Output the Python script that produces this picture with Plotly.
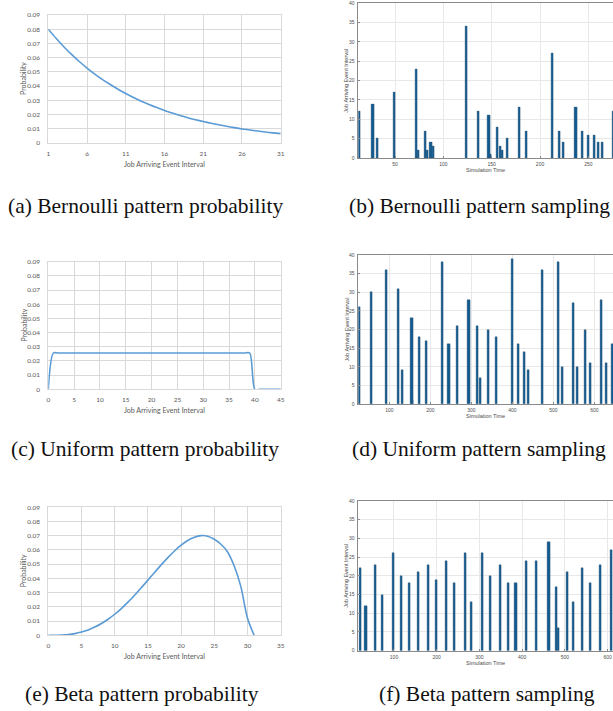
import plotly.graph_objects as go

W, H = 613, 711

# ---------------- data ----------------
# (a) Bernoulli pattern probability
bern_x = list(range(1, 32))
bern_p = [0.0800, 0.0736, 0.0677, 0.0623, 0.0573, 0.0527, 0.0485, 0.0446, 0.0411, 0.0378,
          0.0348, 0.0320, 0.0294, 0.0271, 0.0249, 0.0229, 0.0211, 0.0194, 0.0178, 0.0164,
          0.0151, 0.0139, 0.0128, 0.0118, 0.0108, 0.0099, 0.0092, 0.0084, 0.0077, 0.0071,
          0.0066]
bern_xticks = [1, 6, 11, 16, 21, 26, 31]

# (b) Bernoulli pattern sampling
bern_t = [13, 27, 32, 49, 72, 74, 81, 83, 87, 90, 124, 136, 147, 148, 156, 159, 161, 166,
          179, 186, 213, 220, 224, 237, 244, 250, 256, 260, 264, 276]
bern_v = [12, 14, 5, 17, 23, 2, 7, 2, 4, 3, 34, 12, 11, 1, 8, 3, 2, 5, 13, 7, 27, 7, 4, 13,
          7, 6, 6, 4, 4, 12]

# (c) Uniform pattern probability
unif_x = list(range(0, 46))
unif_p = [0.0,
          0.0256, 0.0256, 0.0256, 0.0256, 0.0256, 0.0256, 0.0256, 0.0256, 0.0256, 0.0256,
          0.0256, 0.0256, 0.0256, 0.0256, 0.0256, 0.0256, 0.0256, 0.0256, 0.0256, 0.0256,
          0.0256, 0.0256, 0.0256, 0.0256, 0.0256, 0.0256, 0.0256, 0.0256, 0.0256, 0.0256,
          0.0256, 0.0256, 0.0256, 0.0256, 0.0256, 0.0256, 0.0256, 0.0256, 0.0256,
          0.0, 0.0, 0.0, 0.0, 0.0, 0.0]

# (d) Uniform pattern sampling
unif_t = [26, 56, 92, 123, 132, 155, 156, 174, 191, 229, 245, 266, 294, 315, 322, 342, 360,
          399, 415, 429, 438, 474, 512, 522, 549, 559, 579, 590, 618, 629, 645]
unif_v = [26, 30, 36, 31, 9, 23, 1, 18, 17, 38, 16, 21, 28, 21, 7, 20, 18, 39, 16, 14, 9,
          36, 38, 10, 27, 10, 20, 11, 28, 11, 16]

# (e) Beta pattern probability
beta_x = list(range(0, 32))
beta_p = [0.0, 0.0, 0.0002, 0.0005, 0.0012, 0.0023, 0.0038, 0.0058, 0.0083, 0.0113,
          0.0148, 0.0188, 0.0233, 0.0282, 0.0334, 0.0388, 0.0442, 0.0495, 0.0546, 0.0593,
          0.0634, 0.0667, 0.0690, 0.0701, 0.0697, 0.0675, 0.0640, 0.0586, 0.0487, 0.0342,
          0.0120, 0.0]

# (f) Beta pattern sampling
beta_t = [22, 34, 57, 72, 98, 118, 136, 157, 180, 199, 223, 241, 267, 280, 306, 326, 349,
          367, 385, 409, 433, 462, 479, 485, 506, 519, 541, 559, 582, 609]
beta_v = [22, 12, 23, 15, 26, 20, 18, 21, 23, 19, 24, 18, 26, 13, 26, 20, 23, 18, 18, 24,
          24, 29, 17, 6, 21, 13, 22, 18, 23, 27]

prob_yticks = [0, 0.01, 0.02, 0.03, 0.04, 0.05, 0.06, 0.07, 0.08, 0.09]
prob_yticklabels = ["0", "0.01", "0.02", "0.03", "0.04", "0.05", "0.06", "0.07", "0.08", "0.09"]
samp_yticks = [0, 5, 10, 15, 20, 25, 30, 35, 40]

captions = ["(a) Bernoulli pattern probability", "(b) Bernoulli pattern sampling",
            "(c) Uniform pattern probability", "(d) Uniform pattern sampling",
            "(e) Beta pattern probability", "(f) Beta pattern sampling"]

# ---------------- helpers ----------------
def fx(px):
    return px / W

def fy(py):
    return 1 - py / H

LINE_C = "#5b9bd5"
BAR_C = "#105a90"
EX_GRID = "#d9d9d9"
EX_TXT = "#595959"
ML_GRID = "#e8e8e8"
ML_TXT = "#4d4d4d"

fig = go.Figure()

left = [
    (bern_x, bern_p, 1, 15, 143, [1, 31], bern_xticks),
    (unif_x, unif_p, 3, 261.7, 389.3, [0, 45], list(range(0, 46, 5))),
    (beta_x, beta_p, 5, 507.3, 635.3, [0, 35], list(range(0, 36, 5))),
]
right = [
    (bern_t, bern_v, 2, 3.3, 158, [12, 275.5], [50, 100, 150, 200, 250], 2.2),
    (unif_t, unif_v, 4, 255, 404, [24.4, 645.6], [100, 200, 300, 400, 500, 600], 5.2),
    (beta_t, beta_v, 6, 501, 650.7, [16.5, 612.4], [100, 200, 300, 400, 500, 600], 5.2),
]

layout = dict(width=W, height=H, margin=dict(l=0, r=0, t=0, b=0), autosize=False,
              paper_bgcolor="white", plot_bgcolor="white", showlegend=False,
              bargap=0)
annotations = []

for xs, ys, i, top, bot, xr, xt in left:
    sfx = "" if i == 1 else str(i)
    fig.add_trace(go.Scatter(x=xs, y=ys, mode="lines",
                             line=dict(color=LINE_C, width=1.6, shape="spline", smoothing=0.8),
                             xaxis="x" + sfx, yaxis="y" + sfx, hoverinfo="skip"))
    layout["xaxis" + sfx] = dict(domain=[fx(48.3), fx(280.7)], anchor="y" + sfx, range=xr,
                                 tickvals=xt, showgrid=True, gridcolor=EX_GRID, gridwidth=1,
                                 zeroline=False, showline=True, linecolor=EX_GRID, mirror=True,
                                 ticks="", tickfont=dict(family="Lato", size=6.5, color=EX_TXT),
                                 ticklabelstandoff=4, automargin=False)
    layout["yaxis" + sfx] = dict(domain=[fy(bot), fy(top)], anchor="x" + sfx, range=[0, 0.09],
                                 tickvals=prob_yticks, ticktext=prob_yticklabels,
                                 showgrid=True, gridcolor=EX_GRID, gridwidth=1,
                                 zeroline=False, showline=True, linecolor=EX_GRID, mirror=True,
                                 ticks="", tickfont=dict(family="Lato", size=6.5, color=EX_TXT),
                                 ticklabelstandoff=6, automargin=False)
    annotations.append(dict(text="Probability", x=fx(23), y=fy((top + bot) / 2), xref="paper",
                            yref="paper", showarrow=False, textangle=-90,
                            xanchor="center", yanchor="middle",
                            font=dict(family="Lato", size=7, color=EX_TXT)))
    annotations.append(dict(text="Job Arriving Event Interval", x=fx(164.5), y=fy(bot + 21),
                            xref="paper", yref="paper", showarrow=False,
                            xanchor="center", yanchor="middle",
                            font=dict(family="Lato", size=7, color=EX_TXT)))

for xs, ys, i, top, bot, xr, xt, bw in right:
    sfx = str(i)
    fig.add_trace(go.Bar(x=xs, y=ys, width=bw,
                         marker=dict(color=BAR_C, line=dict(color="#3f5f7c", width=0.4)),
                         xaxis="x" + sfx, yaxis="y" + sfx, hoverinfo="skip"))
    layout["xaxis" + sfx] = dict(domain=[fx(358.3), 1.0], anchor="y" + sfx, range=xr,
                                 tickvals=xt, showgrid=True, gridcolor=ML_GRID, gridwidth=0.7,
                                 zeroline=False, showline=True, linecolor="#8a8a8a",
                                 linewidth=0.7, mirror=True, ticks="inside", ticklen=2,
                                 tickcolor="#8a8a8a", tickwidth=0.7,
                                 tickfont=dict(family="Liberation Sans", size=5, color=ML_TXT),
                                 ticklabelstandoff=1, automargin=False)
    layout["yaxis" + sfx] = dict(domain=[fy(bot), fy(top)], anchor="x" + sfx, range=[0, 40],
                                 tickvals=samp_yticks, showgrid=True, gridcolor=ML_GRID,
                                 gridwidth=0.7, zeroline=False, showline=True,
                                 linecolor="#8a8a8a", linewidth=0.7, mirror=False,
                                 ticks="inside", ticklen=2, tickcolor="#8a8a8a", tickwidth=0.7,
                                 tickfont=dict(family="Liberation Sans", size=5, color=ML_TXT),
                                 ticklabelstandoff=2, automargin=False)
    annotations.append(dict(text="Job Arriving Event Interval", x=fx(346),
                            y=fy((top + bot) / 2), xref="paper", yref="paper",
                            showarrow=False, textangle=-90,
                            xanchor="center", yanchor="middle",
                            font=dict(family="Liberation Sans", size=5.5, color=ML_TXT)))
    annotations.append(dict(text="Simulation Time", x=fx(485.5), y=fy(bot + 12),
                            xref="paper", yref="paper", showarrow=False,
                            xanchor="center", yanchor="middle",
                            font=dict(family="Liberation Sans", size=5.5, color=ML_TXT)))

cap_pos = [(145, 206), (479, 206), (145, 449), (479, 449), (142, 694), (487, 694)]
for txt, (cx, cy) in zip(captions, cap_pos):
    annotations.append(dict(text=txt, x=fx(cx), y=fy(cy), xref="paper", yref="paper",
                            showarrow=False, xanchor="center", yanchor="middle",
                            font=dict(family="Liberation Serif", size=21.5, color="#111111")))

layout["annotations"] = annotations
fig.update_layout(**layout)
fig.write_html("out.html", config={"displayModeBar": False},
               post_script="document.documentElement.style.margin='0';"
                           "document.body.style.margin='0';document.body.style.padding='0';"
                           "document.body.style.overflow='hidden';")
